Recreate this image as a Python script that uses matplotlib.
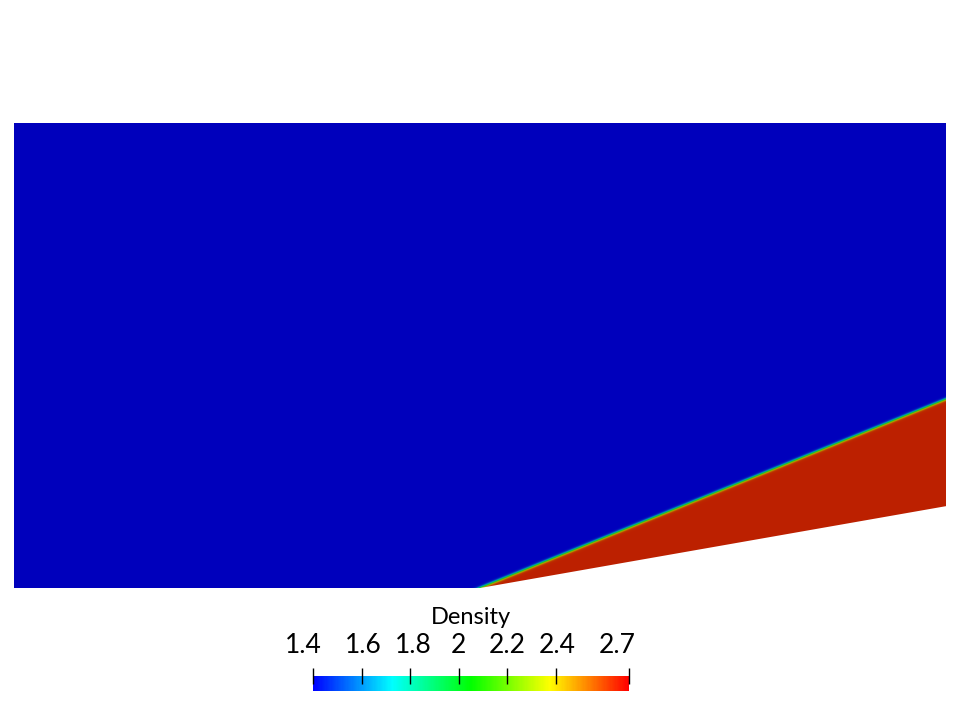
import numpy as np
import matplotlib
matplotlib.use("Agg")
import matplotlib.pyplot as plt
from matplotlib.colors import ListedColormap, hsv_to_rgb, Normalize
from matplotlib.patches import Polygon
from matplotlib.cm import ScalarMappable
from matplotlib.transforms import offset_copy

# channel geometry (height = 1)
domain_x = [0.0, 2.0]
domain_y = [0.0, 1.0]
wedge_x = [1.0, 2.0]          # wedge starts at x=1, rises to the outlet
wedge_y = [0.0, 0.176]
shock_x = [1.0, 2.0]          # attached oblique shock
shock_y = [0.0, 0.406]

rho_inflow = 1.4
rho_post = 2.64
rho_range = [1.4, 2.7]

cbar_ticks = [1.4, 1.6, 1.8, 2.0, 2.2, 2.4, 2.7]
cbar_labels = ["1.4", "1.6", "1.8", "2", "2.2", "2.4", "2.7"]

shade = 0.74        # surface lighting factor of the render
shock_width = 0.003
label_shift = [-10, 2, 3, 0, 0, 1, -12]   # px, paraview nudges the end labels

plt.rcParams['font.family'] = ['Lato', 'DejaVu Sans']

# blue -> red rainbow (hsv)
hues = np.linspace(2 / 3, 0, 256)
rgb = hsv_to_rgb(np.stack([hues, np.ones(256), np.ones(256)], axis=1))
cmap = ListedColormap(rgb)
cmap_lit = ListedColormap(rgb * shade)

# density field
nx, ny = 1860, 930
xs = np.linspace(domain_x[0], domain_x[1], nx)
ys = np.linspace(domain_y[0], domain_y[1], ny)
X, Y = np.meshgrid(xs, ys)
slope = (shock_y[1] - shock_y[0]) / (shock_x[1] - shock_x[0])
dist = ((X - shock_x[0]) * slope - (Y - shock_y[0])) / np.hypot(1, slope)
rho = rho_inflow + (rho_post - rho_inflow) * 0.5 * (1 + np.tanh(dist / shock_width))

fig = plt.figure(figsize=(9.6, 7.12), dpi=100)
ax = fig.add_axes([14 / 960, 124 / 712, 932 / 960, 465 / 712])
ax.set_xlim(domain_x)
ax.set_ylim(domain_y)
ax.axis("off")

im = ax.imshow(rho, origin="lower", extent=[domain_x[0], domain_x[1], domain_y[0], domain_y[1]],
               cmap=cmap_lit, vmin=rho_range[0], vmax=rho_range[1],
               interpolation="bilinear", aspect="auto")
outline = Polygon([(domain_x[0], domain_y[0]), (wedge_x[0], wedge_y[0]),
                   (wedge_x[1], wedge_y[1]), (domain_x[1], domain_y[1]),
                   (domain_x[0], domain_y[1])],
                  closed=True, facecolor="none", edgecolor="none", transform=ax.transData)
ax.add_patch(outline)
im.set_clip_path(outline)

# colour bar
cax = fig.add_axes([313 / 960, 21 / 712, 316 / 960, 15 / 712])
sm = ScalarMappable(norm=Normalize(*rho_range), cmap=cmap)
cb = fig.colorbar(sm, cax=cax, orientation="horizontal", ticklocation="top")
cb.outline.set_visible(False)
cb.set_ticks(cbar_ticks)
cb.set_ticklabels([])
cax.tick_params(axis="x", direction="inout", length=12, width=1, color="black")
for val, lab, dx in zip(cbar_ticks, cbar_labels, label_shift):
    tr = offset_copy(cax.get_xaxis_transform(), fig=fig, x=dx, y=0, units="dots")
    cax.text(val, 3.05, lab, transform=tr, ha="center", va="center", fontsize=19)
fig.text(471 / 960, (712 - 617) / 712, "Density", ha="center", va="center", fontsize=17)

fig.savefig("out.png", dpi=100)
